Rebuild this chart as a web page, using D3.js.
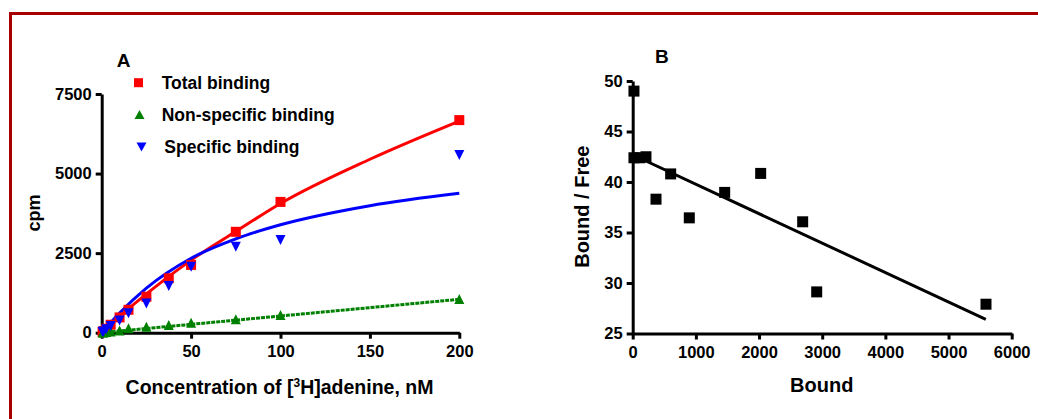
<!DOCTYPE html>
<html lang="en">
<head>
	<meta charset="UTF-8">
	<title>[3H]adenine binding</title>
	<script src="https://cdnjs.cloudflare.com/ajax/libs/d3/7.8.5/d3.min.js"></script>
	<style>
		*{
			padding: 0;
			margin: 0;
		}
		body{
			background: #fff;
		}
		svg{
			display: block;
			font-family: "Liberation Sans", Arial, sans-serif;
			font-weight: bold;
		}
		.axis .domain, .axis .tick line{
			stroke: #000;
			stroke-width: 3;
		}
		.fit{
			fill: none;
			stroke-width: 3;
		}
	</style>
</head>
<body>
	<div id="container"></div>
<script>
	// panel A: concentration (nM) and cpm
	var conc = [0.5, 1, 2.5, 5, 10, 15, 25, 37.5, 50, 75, 100, 200]
	var total = [25, 50, 125, 250, 480, 720, 1130, 1710, 2130, 3170, 4110, 6680]
	var nonspecific = [5, 8, 20, 35, 70, 140, 190, 240, 310, 420, 555, 1060]
	var specific = [20, 40, 105, 210, 380, 610, 920, 1470, 2070, 2700, 2910, 5580]

	// fitted curves
	var fitX = [0, 10, 25, 50, 75, 100, 150, 200]
	var totalFit = [0, 510, 1220, 2280, 3180, 4060, 5450, 6650]
	var specificFit = [0, 620, 1400, 2340, 2950, 3390, 3990, 4380]
	var nsFitX = [0, 200]
	var nsFit = [0, 1050]

	var xTicksA = [0, 50, 100, 150, 200]
	var yTicksA = [0, 2500, 5000, 7500]

	// panel B: Scatchard plot
	var bound = [20, 20, 115, 210, 369, 601, 896, 1456, 2026, 2691, 2913, 5593]
	var boundFree = [49.0, 42.4, 42.4, 42.5, 38.3, 40.8, 36.45, 38.97, 40.85, 36.06, 29.12, 27.9]
	var lineBX = [100, 5590]
	var lineBY = [42.4, 26.4]

	var xTicksB = [0, 1000, 2000, 3000, 4000, 5000, 6000]
	var yTicksB = [25, 30, 35, 40, 45, 50]

	var legendLabels = ['Total binding', 'Non-specific binding', 'Specific binding']
	var colors = {total: '#ff0000', ns: '#008000', spec: '#0000ff'}

	var width = 1038, height = 419

	var svg = d3.select('#container')
	.append('svg')
	.attr('width', width)
	.attr('height', height)

	// frame
	svg.append('path')
	.attr('d', 'M10.5,' + height + 'V13.5H' + width)
	.attr('fill', 'none')
	.attr('stroke', '#a80000')
	.attr('stroke-width', 3)

	function tri(cx, cy, w, h, down){
		var s = down ? -1 : 1
		return 'M' + (cx - w / 2) + ',' + (cy + s * h / 2) +
			'L' + (cx + w / 2) + ',' + (cy + s * h / 2) +
			'L' + cx + ',' + (cy - s * h / 2) + 'Z'
	}

	function styleAxis(sel){
		sel.attr('class', 'axis')
		sel.selectAll('text')
		.attr('font-size', '16.5px')
		.attr('font-weight', 'bold')
		.attr('font-family', '"Liberation Sans", Arial, sans-serif')
		.attr('fill', '#000')
	}

	// ---------- panel A ----------
	var xA = d3.scaleLinear().domain([0, 200]).range([101.7, 459.3])
	var yA = d3.scaleLinear().domain([0, 7500]).range([332.7, 94])

	var gA = svg.append('g')

	gA.append('g')
	.attr('transform', 'translate(0,' + yA(0) + ')')
	.call(d3.axisBottom(xA).tickValues(xTicksA).tickFormat(d3.format('d')).tickSize(6).tickSizeOuter(0).tickPadding(7))
	.call(styleAxis)

	gA.append('g')
	.attr('transform', 'translate(' + xA(0) + ',0)')
	.call(d3.axisLeft(yA).tickValues(yTicksA).tickFormat(d3.format('d')).tickSize(6).tickSizeOuter(0).tickPadding(4))
	.call(styleAxis)

	var lineA = d3.line()
	.x(function(d){ return xA(d[0]) })
	.y(function(d){ return yA(d[1]) })
	.curve(d3.curveMonotoneX)

	gA.append('path')
	.attr('class', 'fit')
	.attr('stroke', colors.ns)
	.attr('stroke-dasharray', '4,1')
	.attr('d', lineA(d3.zip(nsFitX, nsFit)))

	gA.append('path')
	.attr('class', 'fit')
	.attr('stroke', colors.total)
	.attr('d', lineA(d3.zip(fitX, totalFit)))

	gA.append('path')
	.attr('class', 'fit')
	.attr('stroke', colors.spec)
	.attr('d', lineA(d3.zip(fitX, specificFit)))

	gA.selectAll('.tot')
	.data(d3.zip(conc, total))
	.enter().append('rect')
	.attr('x', function(d){ return xA(d[0]) - 5 })
	.attr('y', function(d){ return yA(d[1]) - 5 })
	.attr('width', 10)
	.attr('height', 10)
	.attr('fill', colors.total)

	gA.selectAll('.ns')
	.data(d3.zip(conc, nonspecific))
	.enter().append('path')
	.attr('d', function(d){ return tri(xA(d[0]), yA(d[1]), 10, 10, false) })
	.attr('fill', colors.ns)

	gA.selectAll('.spec')
	.data(d3.zip(conc, specific))
	.enter().append('path')
	.attr('d', function(d){ return tri(xA(d[0]), yA(d[1]), 10, 10, true) })
	.attr('fill', colors.spec)

	// legend
	var legY = [82.7, 114.5, 147]
	var leg = gA.append('g')
	leg.append('rect')
	.attr('x', 134).attr('y', legY[0] - 4.5).attr('width', 9).attr('height', 9)
	.attr('fill', colors.total)
	leg.append('path').attr('d', tri(139.5, legY[1], 10, 9, false)).attr('fill', colors.ns)
	leg.append('path').attr('d', tri(141.5, legY[2], 10, 9, true)).attr('fill', colors.spec)
	leg.selectAll('text')
	.data(legendLabels)
	.enter().append('text')
	.attr('x', function(d, i){ return i == 2 ? 164.3 : 161.7 })
	.attr('y', function(d, i){ return legY[i] + 6.3 })
	.attr('font-size', '17.5px')
	.text(function(d){ return d })

	gA.append('text')
	.attr('x', 116.7).attr('y', 66.7)
	.attr('font-size', '19px')
	.text('A')

	var titleA = gA.append('text')
	.attr('x', 279.5).attr('y', 394)
	.attr('text-anchor', 'middle')
	.attr('font-size', '19.5px')
	titleA.append('tspan').text('Concentration of [')
	titleA.append('tspan').attr('dy', -7).attr('font-size', '12px').text('3')
	titleA.append('tspan').attr('dy', 7).text('H]adenine, nM')

	gA.append('text')
	.attr('transform', 'translate(40,213) rotate(-90)')
	.attr('text-anchor', 'middle')
	.attr('font-size', '18px')
	.text('cpm')

	// ---------- panel B ----------
	var xB = d3.scaleLinear().domain([0, 6000]).range([632.7, 1011.7])
	var yB = d3.scaleLinear().domain([25, 50]).range([333.5, 81])

	var gB = svg.append('g')

	gB.append('g')
	.attr('transform', 'translate(0,' + yB(25) + ')')
	.call(d3.axisBottom(xB).tickValues(xTicksB).tickFormat(d3.format('d')).tickSize(6).tickSizeOuter(0).tickPadding(7))
	.call(styleAxis)

	gB.append('g')
	.attr('transform', 'translate(' + xB(0) + ',0)')
	.call(d3.axisLeft(yB).tickValues(yTicksB).tickFormat(d3.format('d')).tickSize(6).tickSizeOuter(0).tickPadding(4))
	.call(styleAxis)

	var lineB = d3.line()
	.x(function(d){ return xB(d[0]) })
	.y(function(d){ return yB(d[1]) })

	gB.append('path')
	.attr('class', 'fit')
	.attr('stroke', '#000')
	.attr('d', lineB(d3.zip(lineBX, lineBY)))

	gB.selectAll('.pt')
	.data(d3.zip(bound, boundFree))
	.enter().append('rect')
	.attr('x', function(d){ return xB(d[0]) - 5.5 })
	.attr('y', function(d){ return yB(d[1]) - 5.5 })
	.attr('width', 11)
	.attr('height', 11)
	.attr('fill', '#000')

	gB.append('text')
	.attr('x', 655).attr('y', 62.7)
	.attr('font-size', '19px')
	.text('B')

	gB.append('text')
	.attr('x', 821.7).attr('y', 391.7)
	.attr('text-anchor', 'middle')
	.attr('font-size', '20px')
	.text('Bound')

	gB.append('text')
	.attr('transform', 'translate(589,206.7) rotate(-90)')
	.attr('text-anchor', 'middle')
	.attr('font-size', '20px')
	.text('Bound / Free')
</script>
</body>
</html>
